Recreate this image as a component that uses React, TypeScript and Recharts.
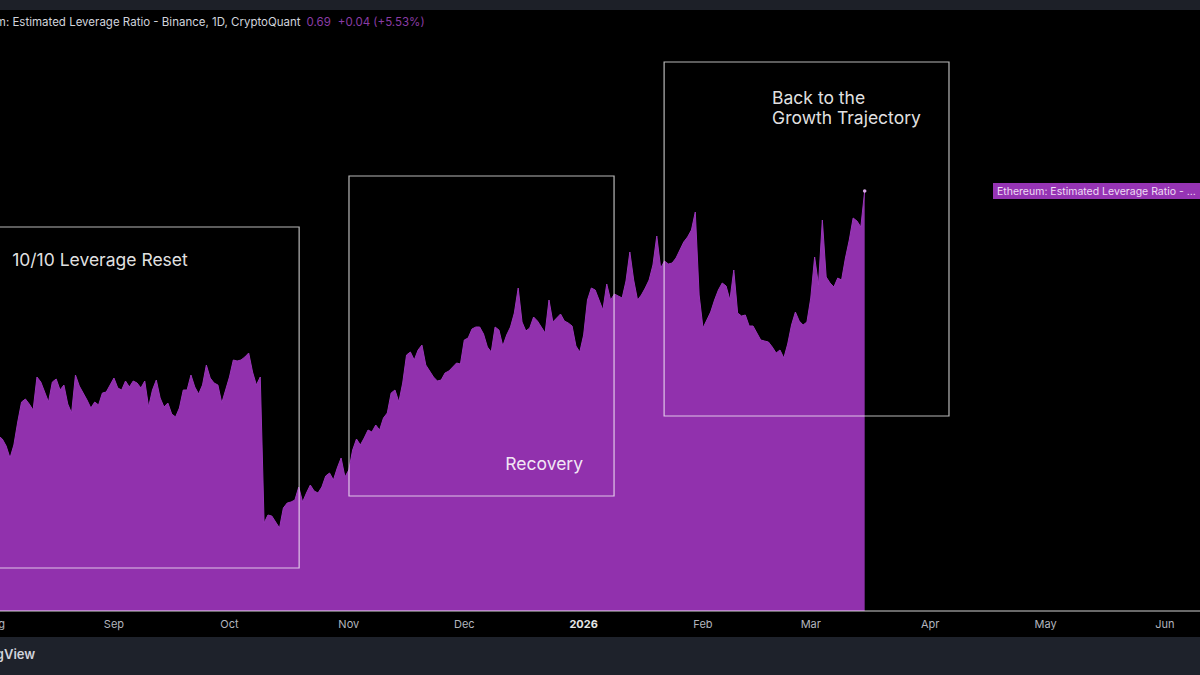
import { AreaChart, Area, XAxis, YAxis, ReferenceArea, ReferenceLine } from 'recharts';

// daily ELR values starting Aug 1, 2025 (day index 1, Jul 31 = 0)
const firstDay = 1;
const leverage = [
  0.445,
  0.442, 0.435, 0.423, 0.436, 0.459, 0.479, 0.482, 0.477, 0.471, 0.504,
  0.499, 0.489, 0.479, 0.499, 0.502, 0.491, 0.496, 0.477, 0.468, 0.506,
  0.495, 0.488, 0.481, 0.473, 0.479, 0.476, 0.488, 0.489, 0.496, 0.503,
  0.493, 0.491, 0.5, 0.494, 0.5, 0.498, 0.493, 0.5, 0.474, 0.491,
  0.501, 0.483, 0.474, 0.478, 0.467, 0.464, 0.473, 0.491, 0.491, 0.506,
  0.494, 0.487, 0.496, 0.516, 0.503, 0.498, 0.496, 0.478, 0.491, 0.504,
  0.521, 0.52, 0.521, 0.524, 0.528, 0.509, 0.496, 0.504, 0.358, 0.366,
  0.365, 0.359, 0.353, 0.373, 0.378, 0.379, 0.381, 0.394, 0.379, 0.388,
  0.396, 0.39, 0.388, 0.394, 0.405, 0.408, 0.401, 0.413, 0.423, 0.404,
  0.411, 0.431, 0.442, 0.436, 0.443, 0.451, 0.449, 0.456, 0.451, 0.463,
  0.468, 0.488, 0.491, 0.479, 0.498, 0.526, 0.529, 0.521, 0.531, 0.536,
  0.516, 0.51, 0.504, 0.5, 0.501, 0.508, 0.51, 0.514, 0.518, 0.517,
  0.541, 0.543, 0.552, 0.554, 0.554, 0.547, 0.534, 0.529, 0.554, 0.551,
  0.535, 0.546, 0.554, 0.568, 0.593, 0.559, 0.55, 0.553, 0.564, 0.56,
  0.554, 0.548, 0.581, 0.559, 0.563, 0.567, 0.56, 0.558, 0.555, 0.535,
  0.529, 0.546, 0.581, 0.593, 0.591, 0.581, 0.571, 0.597, 0.581, 0.587,
  0.585, 0.583, 0.6, 0.629, 0.601, 0.581, 0.586, 0.593, 0.601, 0.616,
  0.645, 0.613, 0.62, 0.617, 0.618, 0.623, 0.631, 0.639, 0.644, 0.651,
  0.669, 0.586, 0.553, 0.561, 0.569, 0.581, 0.591, 0.598, 0.595, 0.581,
  0.611, 0.568, 0.565, 0.566, 0.555, 0.555, 0.548, 0.541, 0.54, 0.539,
  0.534, 0.528, 0.531, 0.523, 0.537, 0.556, 0.569, 0.56, 0.556, 0.559,
  0.583, 0.624, 0.596, 0.661, 0.604, 0.598, 0.594, 0.603, 0.601, 0.623,
  0.641, 0.663, 0.66, 0.654, 0.69,
];

const monthTicks = [0, 31, 61, 92, 122, 153, 184, 212, 243, 273, 304];
const monthLabels = ['Aug', 'Sep', 'Oct', 'Nov', 'Dec', '2026', 'Feb', 'Mar', 'Apr', 'May', 'Jun'];

const chartData = leverage.map((value, i) => ({ day: firstDay + i, value }));
const lastIndex = leverage.length - 1;
const lastValue = leverage[lastIndex];

const font = 'Inter, "Noto Sans", sans-serif';
const boxStroke = 'rgba(255,255,255,0.72)';

const MonthTick = (props: any) => {
  const { x, y, payload } = props;
  const label = monthLabels[monthTicks.indexOf(payload.value)];
  const isYear = label === '2026';
  return (
    <text x={x} y={y + 9} textAnchor="middle" fontSize={11} fontFamily={font}
      fontWeight={isYear ? 700 : 400} fill={isYear ? '#e6e6e6' : '#b2b5be'}>
      {label}
    </text>
  );
};

const boxLabel = (lines: string[], dx: number, dy: number, anchor: 'start' | 'end', fromRight = false, fromBottom = false) =>
  (props: any) => {
    const vb = props.viewBox || {};
    const x = fromRight ? vb.x + vb.width - dx : vb.x + dx;
    const y = fromBottom ? vb.y + vb.height - dy : vb.y + dy;
    return (
      <text x={x} y={y} textAnchor={anchor} fontSize={17.5} fontFamily={font} fill="rgba(255,255,255,0.9)">
        {lines.map((l, i) => (
          <tspan key={i} x={x} dy={i === 0 ? 0 : 20}>{l}</tspan>
        ))}
      </text>
    );
  };

const seriesTag = (props: any) => {
  const vb = props.viewBox || {};
  return (
    <g>
      <rect x={993} y={vb.y - 8} width={220} height={16} fill="#9634b4" />
      <text x={997} y={vb.y + 4} fontSize={10.5} fontFamily={font} fill="#efdcf5">
        Ethereum: Estimated Leverage Ratio - ...
      </text>
    </g>
  );
};

const lastDot = (props: any) => {
  const { cx, cy, index } = props;
  if (index !== lastIndex) return <g key={index} />;
  return <circle key={index} cx={cx} cy={cy} r={1.8} fill="#d9a7e8" />;
};

export default function App() {
  return (
    <div style={{ position: 'fixed', left: 0, top: 0, width: 1200, height: 675, background: '#000', overflow: 'hidden' }}>
      <div style={{ height: 10, background: '#1d2028' }} />
      <AreaChart width={1200} height={627} data={chartData} margin={{ top: 0, right: 0, left: 0, bottom: 0 }}>
        <XAxis dataKey="day" type="number" domain={[1.4, 313.1]} allowDataOverflow ticks={monthTicks}
          interval={0} tick={<MonthTick />} tickLine={false} height={26}
          axisLine={{ stroke: 'rgba(255,255,255,0.55)', strokeWidth: 1.5 }} />
        <YAxis hide domain={[0.27, 0.871]} allowDataOverflow />
        <Area type="linear" dataKey="value" stroke="#9a36ba" strokeWidth={1} fill="#9131ad" fillOpacity={1}
          isAnimationActive={false} dot={lastDot} activeDot={false} />
        <ReferenceArea x1={-5} x2={79.1} y1={0.313} y2={0.654} ifOverflow="visible" fill="none"
          stroke={boxStroke} strokeWidth={1.2} label={boxLabel(['10/10 Leverage Reset'], 287, 39, 'start', true)} />
        <ReferenceArea x1={92.05} x2={160.9} y1={0.385} y2={0.705} ifOverflow="visible" fill="none"
          stroke={boxStroke} strokeWidth={1.2} label={boxLabel(['Recovery'], 31, 26, 'end', true, true)} />
        <ReferenceArea x1={173.9} x2={247.9} y1={0.465} y2={0.819} ifOverflow="visible" fill="none"
          stroke={boxStroke} strokeWidth={1.2} label={boxLabel(['Back to the', 'Growth Trajectory'], 108, 42, 'start')} />
        <ReferenceLine y={lastValue} stroke="none" ifOverflow="visible" label={seriesTag} />
      </AreaChart>
      <div style={{ height: 38, background: '#1e222b', position: 'relative' }} />
      <div style={{ position: 'absolute', left: -46, top: 15, whiteSpace: 'nowrap', fontFamily: font, fontSize: 11.5, color: '#d1d4dc' }}>
        Ethereum: Estimated Leverage Ratio - Binance, 1D, CryptoQuant
        <span style={{ color: '#8a3ca5', marginLeft: 6 }}>0.69</span>
        <span style={{ color: '#8a3ca5', marginLeft: 7 }}>+0.04 (+5.53%)</span>
      </div>
      <div style={{ position: 'absolute', left: -44, top: 646, whiteSpace: 'nowrap', fontFamily: font, fontSize: 13, fontWeight: 600, color: '#d1d4dc' }}>
        TradingView
      </div>
    </div>
  );
}
